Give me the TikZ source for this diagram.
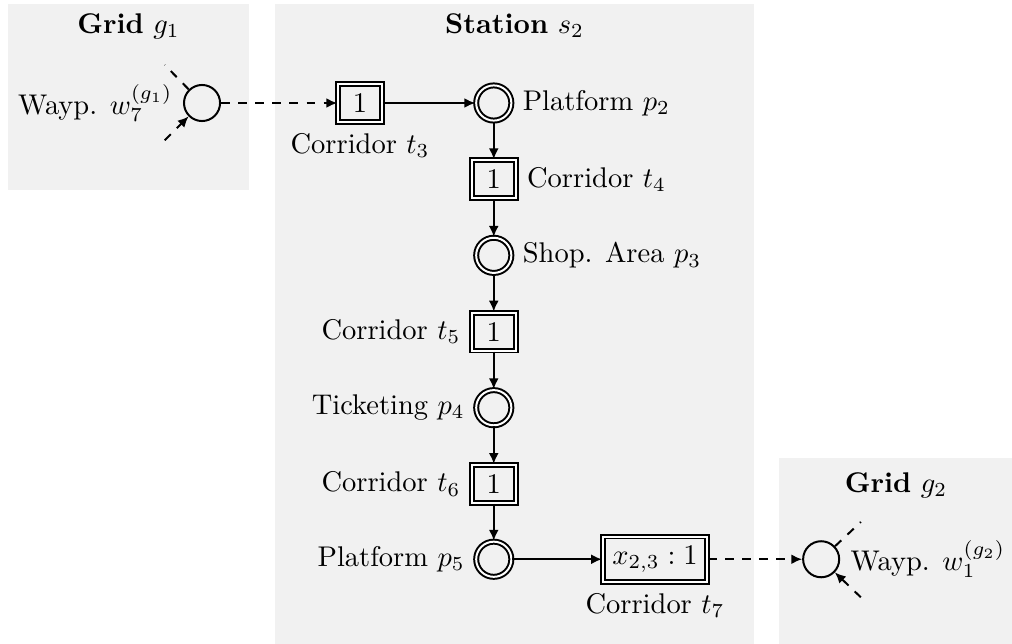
\documentclass[tikz,border=0pt]{standalone}
\usepackage{tikz}
\usetikzlibrary{positioning}
\usetikzlibrary{arrows.meta}
\definecolor{panelgray} {RGB} {241,241,241}
\tikzstyle{wayp} = [circle,draw=black,minimum size=0.445cm,inner sep=0pt]
\tikzstyle{place} = [circle,draw=black,double,double distance=0.7pt,minimum size=0.434cm,inner sep=0pt]
\tikzstyle{trans} = [rectangle,draw=black,double,double distance=0.7pt,minimum width=0.54cm,minimum height=0.41cm]
\tikzstyle{panel} = [rectangle,fill=panelgray,draw=none,anchor=north west,inner sep=0pt]
\tikzstyle{title} = [anchor=north]
\tikzset{>={Latex[length=3.8pt,width=3.5pt]}}

\begin{document}
\begin{tikzpicture}[on grid,line width=0.7pt]
  \useasboundingbox (-2.493,1.271) rectangle (9.995,-6.664);

  \node [panel,minimum width=2.974cm,minimum height=2.295cm] (g1box) at (-2.406,1.234) {};
  \node [panel,minimum width=5.911cm,minimum height=7.898cm] (s2box) at (0.888,1.234) {};
  \node [panel,minimum width=2.887cm,minimum height=2.296cm] (g2box) at (7.108,-4.368) {};

  \node [title] (g1t) at (g1box.north) {\textbf{Grid} $g_1$};
  \node [title] (s2t) at (s2box.north) {\textbf{Station} $s_2$};
  \node [title,yshift=-0.06cm] (g2t) at (g2box.north) {\textbf{Grid} $g_2$};

  \node [wayp,label={left:Wayp. $w_7^{(g_1)}$}] (w7) {};
  \node [trans,right=1.95cm of w7,label={below:Corridor $t_3$}] (t3) {1};
  \node [place,right=1.65cm of t3,label={right:Platform $p_2$}] (p2) {};
  \node [trans,below=0.94cm of p2,label={right:Corridor $t_4$}] (t4) {1};
  \node [place,below=0.94cm of t4,label={right:Shop. Area $p_3$}] (p3) {};
  \node [trans,below=0.94cm of p3,label={left:Corridor $t_5$}] (t5) {1};
  \node [place,below=0.94cm of t5,label={left:Ticketing $p_4$}] (p4) {};
  \node [trans,below=0.94cm of p4,label={left:Corridor $t_6$}] (t6) {1};
  \node [place,below=0.93cm of t6,label={left:Platform $p_5$}] (p5) {};
  \node [trans,right=1.99cm of p5,label={below:Corridor $t_7$}] (t7) {$x_{2,3}:1$};
  \node [wayp,right=2.05cm of t7,label={right:Wayp. $w_1^{(g_2)}$}] (w1) {};

  \coordinate [above left=0.47cm and 0.46cm of w7] (w7o);
  \coordinate [below left=0.46cm and 0.46cm of w7] (w7i);
  \coordinate [above right=0.46cm and 0.49cm of w1] (w1o);
  \coordinate [below right=0.47cm and 0.49cm of w1] (w1i);

  \draw [dashed] (w7) -- (w7o);
  \draw [dashed,->] (w7i) -- (w7);
  \draw [dashed,->] (w7) -- (t3);
  \draw [->] (t3) -- (p2);
  \draw [->] (p2) -- (t4);
  \draw [->] (t4) -- (p3);
  \draw [->] (p3) -- (t5);
  \draw [->] (t5) -- (p4);
  \draw [->] (p4) -- (t6);
  \draw [->] (t6) -- (p5);
  \draw [->] (p5) -- (t7);
  \draw [dashed,->] (t7) -- (w1);
  \draw [dashed] (w1) -- (w1o);
  \draw [dashed,->] (w1i) -- (w1);

\end{tikzpicture}
\end{document}
